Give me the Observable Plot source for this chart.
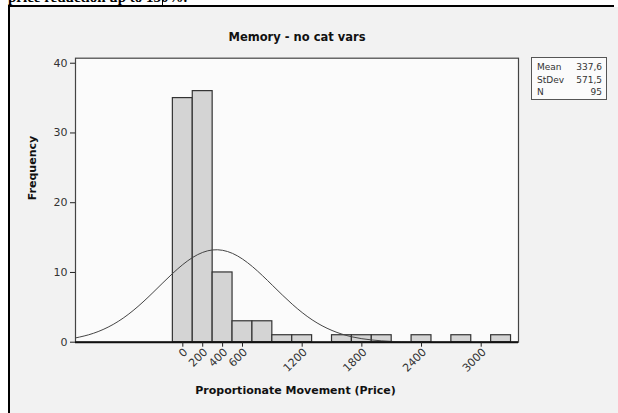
<!DOCTYPE html>
<html><head><meta charset="utf-8">
<script src="https://cdn.jsdelivr.net/npm/d3@7"></script>
<script src="https://cdn.jsdelivr.net/npm/@observablehq/plot@0.6"></script>
<style>
body{margin:0;background:#fff;width:618px;height:413px;overflow:hidden;position:relative;font-family:"DejaVu Sans",sans-serif}
#top{position:absolute;left:8px;top:-11px;font:bold 15px "Liberation Serif",serif;color:#000;white-space:nowrap}
#vline{position:absolute;left:162px;top:0;width:1px;height:6px;background:#000}
#frame{position:absolute;left:8px;top:5px;width:604px;height:420px;border-left:2px solid #000;border-top:2px solid #000;background:#f2f2f2}
#bgR{position:absolute;left:612px;top:7px;width:6px;height:420px;background:#f2f2f2}
#chart{position:absolute;left:10px;top:7px}
#stats{position:absolute;left:531px;top:57px;width:76px;height:43px;border:1px solid #555;background:#fbfbfb;font:9px "DejaVu Sans",sans-serif;color:#333;box-sizing:border-box}
#stats div{position:absolute;left:5px;right:4px;height:12px;line-height:12px}
#stats span{position:absolute;right:0}
</style></head>
<body>
<div id="top">price reduction up to 150%.</div>
<div id="vline"></div>
<div id="frame"></div>
<div id="bgR"></div>
<div id="chart"></div>
<div id="stats"></div>
<script>
const title = "Memory - no cat vars";
const xLabel = "Proportionate Movement (Price)";
const yLabel = "Frequency";
const binCenters = [0,200,400,600,800,1000,1200,1400,1600,1800,2000,2200,2400,2600,2800,3000,3200];
const counts =     [35,36,10,3,3,1,1,0,1,1,1,0,1,0,1,0,1];
const binWidth = 200;
const curveX = [-1080,-900,-700,-500,-300,-100,100,300,500,700,900,1100,1300,1500,1700,1900,2100,2300,2500,2700,3000,3375];
const curveY = [0.61,1.27,2.55,4.53,7.12,9.89,12.16,13.23,12.73,10.84,8.17,5.45,3.21,1.68,0.77,0.32,0.11,0.04,0.01,0,0,0];
const xTicks = [0,200,400,600,1200,1800,2400,3000];
const yTicks = [0,10,20,30,40];
const statNames = ["Mean","StDev","N"];
const statValues = ["337,6","571,5","95"];

const bars = binCenters.map((c,i)=>({x1:c-binWidth/2,x2:c+binWidth/2,y:counts[i]})).filter(d=>d.y>0);
const curve = curveX.map((x,i)=>({x,y:curveY[i]}));

const plot = Plot.plot({
  width:608, height:406,
  marginLeft:65, marginRight:100, marginTop:50.7, marginBottom:71.3,
  style:{background:"transparent", fontFamily:"DejaVu Sans, sans-serif", fontSize:"11px", color:"#333", overflow:"visible"},
  x:{domain:[-1079,3375]},
  y:{domain:[0,40.72]},
  marks:[
    Plot.frame({fill:"#fbfbfb", stroke:null}),
    Plot.rectY(bars,{x1:"x1",x2:"x2",y:"y",fill:"#d4d4d4",stroke:"#333",strokeWidth:1.2}),
    Plot.line(curve,{x:"x",y:"y",curve:"natural",stroke:"#444",strokeWidth:1,clip:true}),
    Plot.frame({stroke:"#444",strokeWidth:1.2}),
    Plot.ruleY([0],{stroke:"#111",strokeWidth:2}),
    Plot.axisX({ticks:xTicks, tickFormat:()=>"", tickSize:5, label:null, stroke:"#222"}),
    Plot.text(xTicks,{x:d=>d, text:d=>String(d), frameAnchor:"bottom", rotate:-45, textAnchor:"end", lineAnchor:"middle", dx:3, dy:8, fontSize:11, fill:"#333"}),
    Plot.axisY({ticks:yTicks, tickFormat:d=>String(d), tickSize:5, tickPadding:3, label:null, stroke:"#222"}),
    Plot.text([title],{frameAnchor:"top", dy:-17.7, lineAnchor:"bottom", fontWeight:"bold", fontSize:11.5, fill:"#111"}),
    Plot.text([yLabel],{frameAnchor:"left", dx:-43, rotate:-90, fontWeight:"bold", fontSize:11, fill:"#111"}),
    Plot.text([xLabel],{frameAnchor:"bottom", dy:48.5, dx:-1.5, lineAnchor:"middle", fontWeight:"bold", fontSize:11, fill:"#111"})
  ]
});
document.getElementById("chart").appendChild(plot);

const st = document.getElementById("stats");
statNames.forEach((n,i)=>{
  const d = document.createElement("div");
  d.style.top = (3 + i*12.5) + "px";
  d.textContent = n;
  const s = document.createElement("span");
  s.textContent = statValues[i];
  d.appendChild(s);
  st.appendChild(d);
});
</script>
</body></html>
